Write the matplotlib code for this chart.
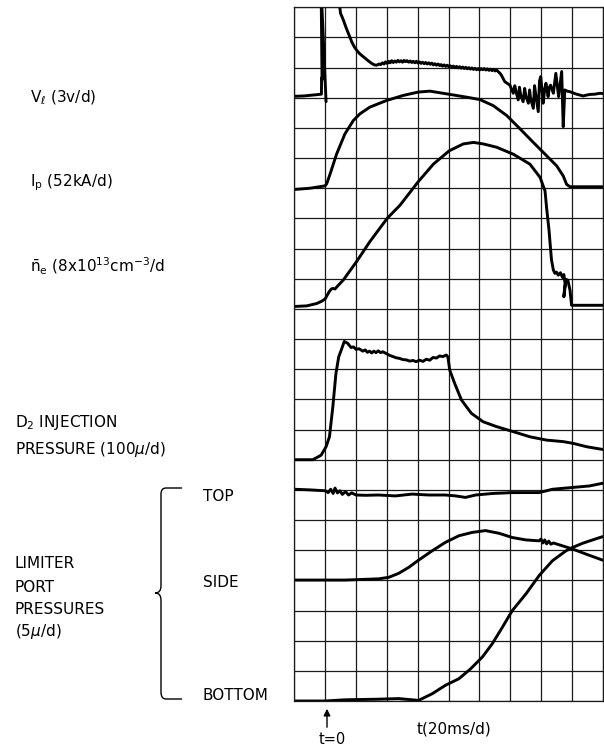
import numpy as np
import matplotlib
matplotlib.use("Agg")
import matplotlib.pyplot as plt
from matplotlib.path import Path
from matplotlib.patches import PathPatch

# ---------------- data (x in time divisions of 20 ms, t=0 at division 1; y in grid divisions) ----------------
vl_seg1_x = [0.00, 0.30, 0.50, 0.70, 0.88, 0.885, 0.90, 0.87, 1.03]
vl_seg1_y = [20.05, 20.06, 20.08, 20.10, 20.12, 20.66, 20.60, 23.60, 19.87]

vl_seg2_x = [1.41, 1.50, 1.59, 1.67, 1.75, 1.86, 1.95, 2.02, 2.12, 2.24, 2.38, 2.51, 2.60, 2.67,
             2.75, 2.80, 2.86, 2.91, 2.96, 3.01, 3.06, 3.11, 3.16, 3.21, 3.26, 3.31, 3.36, 3.41,
             3.46, 3.51, 3.56, 3.61, 3.66, 3.71, 3.76, 3.81, 3.86, 3.91, 3.96, 4.01, 4.06, 4.11,
             4.16, 4.21, 4.26, 4.31, 4.36, 4.41, 4.46, 4.51, 4.56, 4.61, 4.66, 4.71, 4.76, 4.81,
             4.86, 4.91, 4.96, 5.01, 5.06, 5.11, 5.16, 5.21, 5.26, 5.31, 5.36, 5.41, 5.46, 5.51,
             5.56, 5.61, 5.66, 5.71, 5.76, 5.81, 5.86, 5.91, 5.96, 6.01, 6.06, 6.11, 6.16, 6.21,
             6.26, 6.31, 6.36, 6.41, 6.46, 6.51, 6.56, 6.62, 6.68, 6.72, 6.78, 6.83, 6.90, 6.99,
             7.04, 7.10, 7.15, 7.19, 7.26, 7.30, 7.34, 7.42, 7.47, 7.51, 7.59, 7.63, 7.66, 7.75,
             7.79, 7.83, 7.91, 7.95, 7.99, 8.07, 8.12, 8.16, 8.23, 8.27, 8.31, 8.40, 8.48, 8.57,
             8.67, 8.72, 8.77, 8.85, 8.94, 9.05, 9.15, 9.26, 9.37, 9.48, 9.58, 9.75, 9.91, 10.00]
vl_seg2_y = [23.50, 22.80, 22.58, 22.35, 22.14, 21.86, 21.68, 21.58, 21.46, 21.36, 21.24, 21.14, 21.09, 21.08,
             21.12, 21.10, 21.16, 21.12, 21.19, 21.14, 21.21, 21.16, 21.23, 21.17, 21.22, 21.18, 21.24, 21.19,
             21.23, 21.18, 21.24, 21.20, 21.23, 21.18, 21.22, 21.17, 21.21, 21.16, 21.21, 21.15, 21.19, 21.14,
             21.18, 21.13, 21.17, 21.12, 21.16, 21.11, 21.15, 21.09, 21.13, 21.08, 21.12, 21.07, 21.10, 21.05,
             21.09, 21.04, 21.08, 21.03, 21.06, 21.02, 21.05, 21.00, 21.04, 20.99, 21.03, 20.98, 21.02, 20.97,
             21.01, 20.96, 21.00, 20.95, 20.99, 20.94, 20.98, 20.93, 20.97, 20.92, 20.97, 20.93, 20.97, 20.92,
             20.96, 20.91, 20.95, 20.90, 20.94, 20.89, 20.92, 20.86, 20.80, 20.74, 20.62, 20.53, 20.48, 20.42,
             20.30, 20.15, 20.40, 20.20, 19.93, 20.35, 20.10, 19.87, 20.31, 20.05, 19.82, 20.26, 19.98, 19.65,
             20.40, 20.10, 19.54, 20.55, 20.70, 19.82, 20.30, 20.48, 20.04, 20.35, 20.42, 20.15, 20.81, 20.04,
             20.87, 19.04, 20.26, 20.22, 20.20, 20.16, 20.12, 20.09, 20.06, 20.09, 20.11, 20.12, 20.15, 20.14]

ip_x = [0.00, 0.50, 1.00, 1.05, 1.16, 1.37, 1.64, 1.91, 2.13, 2.45, 2.99, 3.54, 4.02, 4.40, 4.94,
        5.59, 6.02, 6.45, 6.89, 7.32, 7.75, 8.18, 8.51, 8.72, 8.83, 8.94, 10.00]
ip_y = [16.96, 17.00, 17.08, 17.15, 17.47, 18.13, 18.80, 19.24, 19.47, 19.69, 19.91, 20.08, 20.19, 20.22, 20.13,
        20.02, 19.94, 19.74, 19.41, 18.97, 18.52, 18.08, 17.74, 17.41, 17.13, 17.05, 17.05]

ne_x = [0.00, 0.40, 0.73, 0.88, 1.00, 1.13, 1.20, 1.26, 1.32, 1.37, 1.59, 2.02, 2.45, 3.01, 3.43, 4.02,
        4.51, 5.02, 5.48, 5.81, 6.13, 6.56, 7.10, 7.64, 7.97, 8.13, 8.18, 8.26, 8.30, 8.34, 8.40, 8.45,
        8.50, 8.56, 8.63, 8.70, 8.74, 8.78, 8.74, 8.81, 8.87, 8.94, 8.99, 9.05, 10.00]
ne_y = [13.08, 13.10, 13.18, 13.25, 13.33, 13.57, 13.66, 13.68, 13.66, 13.72, 13.96, 14.57, 15.23, 16.00, 16.44, 17.22,
        17.80, 18.24, 18.47, 18.52, 18.47, 18.36, 18.13, 17.80, 17.36, 16.91, 16.36, 15.60, 15.10, 14.62, 14.29, 14.18,
        14.22, 14.12, 14.20, 14.04, 14.14, 13.84, 13.40, 13.98, 13.95, 13.62, 13.12, 13.12, 13.12]

d2_x = [0.00, 0.60, 0.87, 1.03, 1.14, 1.25, 1.35, 1.44, 1.52, 1.62, 1.73, 1.84, 1.92, 2.00, 2.10, 2.22,
        2.30, 2.37, 2.44, 2.51, 2.58, 2.65, 2.72, 2.80, 2.87, 2.98, 3.09, 3.20, 3.30, 3.41, 3.52, 3.63,
        3.74, 3.85, 3.95, 4.06, 4.17, 4.28, 4.39, 4.50, 4.61, 4.71, 4.82, 4.93, 4.98, 5.04, 5.20, 5.42,
        5.74, 6.12, 6.55, 7.10, 7.64, 8.18, 8.72, 9.05, 9.48, 10.00]
d2_y = [8.00, 8.00, 8.15, 8.43, 8.76, 9.76, 10.86, 11.41, 11.63, 11.92, 11.86, 11.72, 11.74, 11.66, 11.68, 11.60,
        11.64, 11.56, 11.60, 11.54, 11.60, 11.55, 11.61, 11.55, 11.58, 11.52, 11.46, 11.42, 11.38, 11.36, 11.32, 11.31,
        11.27, 11.29, 11.25, 11.30, 11.26, 11.33, 11.30, 11.39, 11.37, 11.44, 11.42, 11.47, 11.41, 10.97, 10.53, 9.98,
        9.54, 9.26, 9.10, 8.93, 8.76, 8.65, 8.60, 8.54, 8.43, 8.34]

top_x = [0.00, 0.50, 1.00, 1.10, 1.18, 1.26, 1.32, 1.40, 1.48, 1.56, 1.66, 1.76, 1.86, 2.00, 2.30, 2.73,
         3.28, 3.82, 4.36, 4.90, 5.23, 5.55, 5.88, 6.42, 7.07, 7.94, 8.37, 9.02, 9.57, 10.00]
top_y = [7.02, 7.00, 6.97, 6.91, 7.02, 6.88, 7.06, 6.90, 6.97, 6.85, 6.94, 6.83, 6.90, 6.83, 6.82, 6.83,
         6.80, 6.86, 6.83, 6.83, 6.80, 6.75, 6.83, 6.88, 6.91, 6.91, 7.02, 7.08, 7.13, 7.22]

side_x = [0.00, 1.00, 1.65, 2.73, 3.06, 3.38, 3.71, 4.03, 4.47, 4.90, 5.34, 5.77, 6.20, 6.64, 7.07, 7.51,
          7.94, 8.00, 8.06, 8.12, 8.18, 8.25, 8.32, 8.40, 9.02, 9.46, 10.00]
side_y = [4.01, 4.01, 4.01, 4.05, 4.10, 4.23, 4.43, 4.67, 4.98, 5.26, 5.48, 5.59, 5.65, 5.56, 5.42, 5.34,
          5.31, 5.37, 5.24, 5.34, 5.21, 5.30, 5.20, 5.24, 5.04, 4.87, 4.67]

bot_x = [0.00, 1.00, 1.65, 2.73, 3.38, 3.82, 4.03, 4.47, 4.90, 5.34, 5.72, 6.10, 6.42, 6.75, 7.07, 7.51,
         7.94, 8.37, 8.81, 9.02, 9.35, 9.67, 10.00]
bot_y = [0.00, 0.00, 0.04, 0.06, 0.08, 0.04, 0.02, 0.24, 0.52, 0.74, 1.07, 1.46, 1.90, 2.45, 3.00, 3.55,
         4.16, 4.65, 4.98, 5.09, 5.23, 5.34, 5.45]

x_divisions = list(range(0, 11))
y_divisions = list(range(0, 24))

# ---------------- figure ----------------
W, H = 604, 747
fig = plt.figure(figsize=(W / 100, H / 100), dpi=100)
fig.patch.set_facecolor("white")

# overlay in pixel coordinates for annotations
ov = fig.add_axes([0, 0, 1, 1])
ov.set_xlim(0, W)
ov.set_ylim(H, 0)
ov.axis("off")

# oscilloscope grid
gl, gr, gt, gb = 294.3, 602.7, 7.3, 701.0
ax = fig.add_axes([gl / W, (H - gb) / H, (gr - gl) / W, (gb - gt) / H])
ax.set_xlim(0, 10)
ax.set_ylim(0, 23)
ax.set_xticks(x_divisions)
ax.set_yticks(y_divisions)
ax.tick_params(length=0, labelbottom=False, labelleft=False)
ax.grid(True, color="#1a1a1a", linewidth=0.9)
for s in ax.spines.values():
    s.set_color("#1a1a1a")
    s.set_linewidth(0.9)
ax.set_facecolor("none")

lw = 2.1
kw = dict(color="black", linewidth=lw, solid_joinstyle="round", solid_capstyle="round")
ax.plot(vl_seg1_x, vl_seg1_y, **kw)
ax.plot(vl_seg2_x, vl_seg2_y, **kw)
ax.plot(ip_x, ip_y, **kw)
ax.plot(ne_x, ne_y, **kw)
ax.plot(d2_x, d2_y, **kw)
ax.plot(top_x, top_y, **kw)
ax.plot(side_x, side_y, **kw)
ax.plot(bot_x, bot_y, **kw)

# ---------------- labels ----------------
tk = dict(fontsize=11, color="black", va="baseline", ha="left", family="DejaVu Sans")
ov.text(30, 102, r"V$_{\ell}$ (3v/d)", **tk)
ov.text(30, 186, r"I$_{\rm p}$ (52kA/d)", **tk)
ov.text(30, 272, r"$\bar{\rm n}_{\rm e}$ (8x10$^{13}$cm$^{-3}$/d", **tk)
ov.text(15, 427, r"D$_2$ INJECTION", **tk)
ov.text(15, 454, r"PRESSURE (100$\mu$/d)", **tk)
ov.text(15, 568, "LIMITER", **tk)
ov.text(15, 592, "PORT", **tk)
ov.text(15, 614, "PRESSURES", **tk)
ov.text(15, 636, r"(5$\mu$/d)", **tk)
ov.text(203, 501, "TOP", **tk)
ov.text(203, 587, "SIDE", **tk)
ov.text(203, 700, "BOTTOM", **tk)
ov.text(417, 733, "t(20ms/d)", **tk)
ov.text(332, 744, "t=0", **dict(tk, ha="center", fontsize=10.5))

# brace
verts = [(182, 488), (166, 488), (161, 488), (161, 494), (161, 586), (161, 593), (155, 593),
         (161, 593), (161, 600), (161, 692), (161, 699), (166, 699), (182, 699)]
codes = [Path.MOVETO, Path.LINETO, Path.CURVE3, Path.CURVE3, Path.LINETO, Path.CURVE3, Path.CURVE3,
         Path.CURVE3, Path.CURVE3, Path.LINETO, Path.CURVE3, Path.CURVE3, Path.LINETO]
ov.add_patch(PathPatch(Path(verts, codes), facecolor="none", edgecolor="black", linewidth=1.0))

# t=0 arrow
ov.annotate("", xy=(327, 706), xytext=(327, 730),
            arrowprops=dict(arrowstyle="-|>", color="black", lw=1.0, mutation_scale=10))

fig.savefig("out.png", dpi=100, facecolor="white")
